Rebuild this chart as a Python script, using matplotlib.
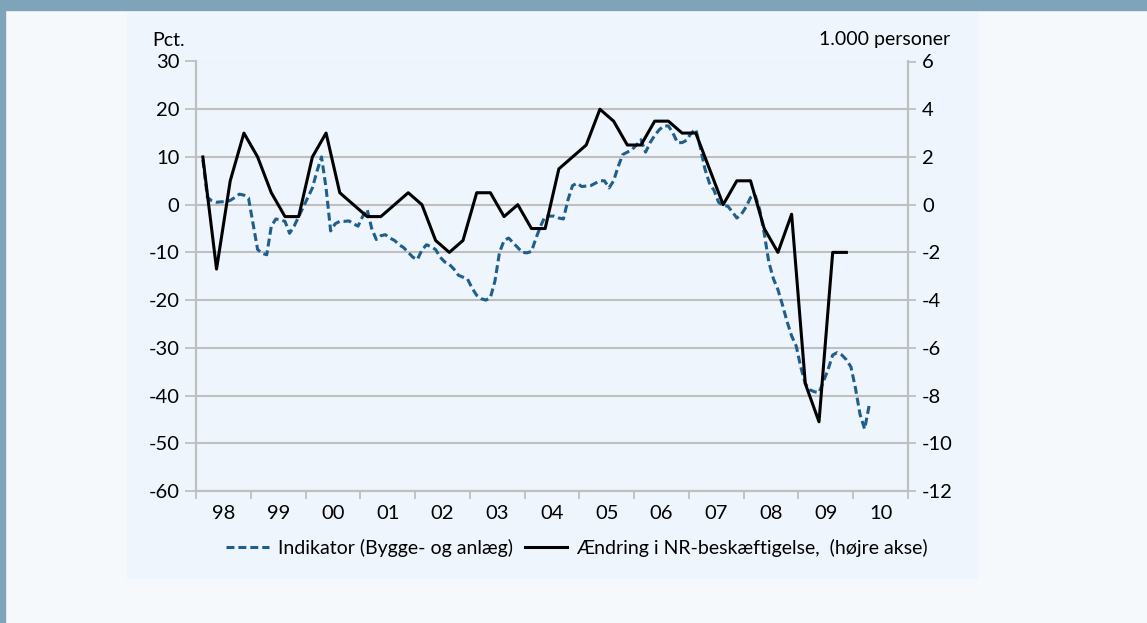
import matplotlib.pyplot as plt
from matplotlib.patches import Rectangle
import numpy as np

plt.rcParams['font.family'] = ['Lato', 'DejaVu Sans']
plt.rcParams['axes.unicode_minus'] = False

# Ændring i NR-beskæftigelse, 1.000 personer (kvartalsvis, 1998K1-2009K4, højre akse)
beskaeftigelse = [2.0, -2.7, 1.0, 3.0, 2.0, 0.5, -0.5, -0.5,
                  2.0, 3.0, 0.5, 0.0, -0.5, -0.5, 0.0, 0.5,
                  0.0, -1.5, -2.0, -1.5, 0.5, 0.5, -0.5, 0.0,
                  -1.0, -1.0, 1.5, 2.0, 2.5, 4.0, 3.5, 2.5,
                  2.5, 3.5, 3.5, 3.0, 3.0, 1.5, 0.0, 1.0,
                  1.0, -1.0, -2.0, -0.4, -7.5, -9.1, -2.0, -2.0]

# Indikator for bygge- og anlæg, pct. (månedlig, jan 1998 - mar 2010)
indikator = [9.4, 1.5, 0.8, 0.5, 0.6, 0.6, 0.9, 1.5, 2.2, 2.0, 1.4, -4.0,
             -9.4, -10.2, -10.5, -4.5, -3.0, -3.2, -3.5, -6.0, -4.5, -2.5, -0.5, 1.5,
             3.5, 7.0, 10.0, 3.5, -5.5, -4.0, -3.5, -3.5, -3.4, -4.0, -4.5, -2.5,
             -1.0, -5.0, -7.3, -6.5, -6.3, -7.0, -7.5, -8.4, -9.0, -10.0, -11.0, -11.5,
             -9.5, -8.4, -8.8, -9.4, -11.0, -12.0, -12.5, -13.5, -14.8, -15.2, -15.6, -17.5,
             -19.0, -19.7, -20.0, -19.5, -16.0, -10.0, -7.5, -7.0, -8.0, -9.0, -10.0, -10.1,
             -9.8, -7.0, -4.5, -2.4, -2.4, -2.4, -2.8, -3.0, 1.0, 4.0, 4.5, 3.8,
             3.9, 4.0, 4.5, 5.0, 5.0, 3.5, 5.0, 8.0, 10.5, 11.0, 11.5, 12.5,
             13.6, 11.0, 13.0, 14.5, 15.7, 16.5, 16.5, 15.0, 13.0, 13.0, 13.5, 15.0,
             15.8, 12.0, 7.5, 4.5, 3.0, 0.5, -0.2, -0.3, -1.5, -2.8, -2.0, -0.5,
             1.5, 2.0, -1.0, -6.0, -12.0, -15.5, -17.8, -21.0, -24.5, -27.5, -29.6, -34.0,
             -37.5, -38.8, -39.2, -39.4, -37.0, -34.5, -31.5, -31.0, -31.5, -32.5, -34.0, -38.5,
             -44.0, -47.0, -42.0]

aar = ['98', '99', '00', '01', '02', '03', '04', '05', '06', '07', '08', '09', '10']

x_kvartal = np.arange(len(beskaeftigelse))
x_maaned = np.arange(len(indikator)) / 3.0

fig = plt.figure(figsize=(11.47, 6.23), dpi=100)
fig.patch.set_facecolor('#F5F9FC')

# baggrund og ramme
fig.patches.append(Rectangle((127 / 1147, 1 - 578 / 623), 850 / 1147, 565 / 623,
                             transform=fig.transFigure, color='#EEF5FC', zorder=-2))
fig.patches.append(Rectangle((0, 1 - 10 / 623), 1, 10 / 623,
                             transform=fig.transFigure, color='#7FA3B9', zorder=-1))
fig.patches.append(Rectangle((0, 0), 5 / 1147, 1,
                             transform=fig.transFigure, color='#7FA3B9', zorder=-1))

ax = fig.add_axes([196 / 1147, 1 - 491 / 623, 712 / 1147, 429.5 / 623])
ax.set_facecolor('none')
ax2 = ax.twinx()

grid_c = '#BFBFBF'
ax.set_ylim(-60, 30)
ax.set_yticks(np.arange(-60, 31, 10))
ax2.set_ylim(-12, 6)
ax2.set_yticks(np.arange(-12, 7, 2))
ax.set_xlim(-0.5, 51.5)
ax.yaxis.grid(True, color=grid_c, lw=1.5)
ax.set_axisbelow(True)

ax.set_xticks(np.arange(-0.5, 52, 4))
ax.set_xticklabels([])
ax.set_xticks(np.arange(1.5, 52, 4), minor=True)
ax.set_xticklabels(aar, minor=True)
ax.tick_params(axis='x', which='major', length=6, width=1.3, color=grid_c)
ax.tick_params(axis='x', which='minor', length=0, labelsize=14.5, pad=10)
ax.tick_params(axis='y', length=8, width=1.3, color=grid_c, labelsize=14.5, pad=4)
ax2.tick_params(axis='y', length=6, width=1.3, color=grid_c, labelsize=14.5, pad=4)

for a in (ax, ax2):
    for s in a.spines.values():
        s.set_color(grid_c)
        s.set_linewidth(1.5)
    a.spines['top'].set_visible(False)

l1, = ax.plot(x_maaned, indikator, color='#1F5F8B', lw=2.2,
              linestyle=(0, (2.6, 1.3)), label='Indikator (Bygge- og anlæg)')
l2, = ax2.plot(x_kvartal, beskaeftigelse, color='black', lw=2.2,
               label='Ændring i NR-beskæftigelse,  (højre akse)')

fig.text(152 / 1147, 1 - 40 / 623, 'Pct.', fontsize=14, va='center', ha='left')
fig.text(950 / 1147, 1 - 40 / 623, '1.000 personer', fontsize=14, va='center', ha='right')

fig.legend([l1, l2], [l1.get_label(), l2.get_label()], loc='center',
           bbox_to_anchor=(577 / 1147, 1 - 548 / 623), ncol=2, frameon=False,
           fontsize=14, handlelength=2.2, columnspacing=0.6, handletextpad=0.45)

fig.savefig('out.png', dpi=100, facecolor=fig.get_facecolor())
